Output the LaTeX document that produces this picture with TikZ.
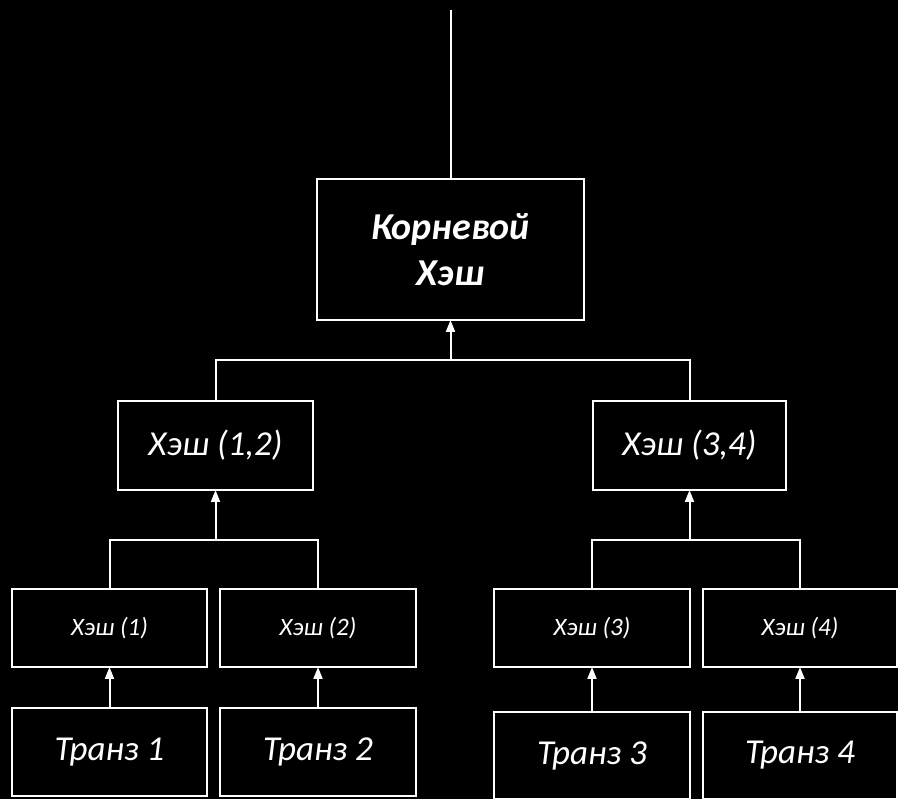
\documentclass[tikz,border=0pt]{standalone}
\usepackage{fontspec}
\setmainfont{Carlito}
\usetikzlibrary{arrows.meta}
\begin{document}
\begin{tikzpicture}[x=1pt,y=-1pt,
  box/.style={draw=white,line width=2pt,text=white,inner sep=0pt,outer sep=0pt,align=center,font=\itshape},
  big/.style={font=\fontsize{35}{40}\selectfont\itshape},
  small/.style={font=\fontsize{25}{28}\selectfont\itshape},
  link/.style={draw=white,line width=2pt},
  arr/.style={link,-{Triangle[width=9pt,length=12pt]}}]
\fill[black] (0,0) rectangle (898,799);
\useasboundingbox (0,0) rectangle (898,799);
% root
\node[box,minimum width=267pt,minimum height=141pt,font=\fontsize{38}{46}\selectfont\bfseries\itshape] (root) at (450.5,249.5) {Корневой\\Хэш};
% level 1
\node[box,big,minimum width=195pt,minimum height=89pt] (h12) at (215.5,445.5) {Хэш (1,2)};
\node[box,big,minimum width=193pt,minimum height=89pt] (h34) at (689.5,445.5) {Хэш (3,4)};
% level 2
\node[box,small,minimum width=195pt,minimum height=78pt] (h1) at (109.5,628) {Хэш (1)};
\node[box,small,minimum width=196pt,minimum height=78pt] (h2) at (318,628) {Хэш (2)};
\node[box,small,minimum width=196pt,minimum height=78pt] (h3) at (592,628) {Хэш (3)};
\node[box,small,minimum width=194pt,minimum height=78pt] (h4) at (800,628) {Хэш (4)};
% transactions
\node[box,big,minimum width=195pt,minimum height=88pt] (t1) at (109.5,752) {Транз 1};
\node[box,big,minimum width=196pt,minimum height=88pt] (t2) at (318,752) {Транз 2};
\node[box,big,minimum width=196pt,minimum height=87pt] (t3) at (592,755.5) {Транз 3};
\node[box,big,minimum width=194pt,minimum height=87pt] (t4) at (800,755.5) {Транз 4};
% connectors
\coordinate (top) at (450.5,10);
\draw[link] (top) -- (root.north);
\coordinate (j0) at (450.5,360);
\coordinate (j1) at (215.5,540);
\coordinate (j2) at (689.5,540);
\draw[link] (h12.north) |- (j0) -| (h34.north);
\draw[arr] (j0) -- (root.south);
\draw[link] (h1.north) |- (j1) -| (h2.north);
\draw[arr] (j1) -- (h12.south);
\draw[link] (h3.north) |- (j2) -| (h4.north);
\draw[arr] (j2) -- (h34.south);
\draw[arr] (t1) -- (h1);
\draw[arr] (t2) -- (h2);
\draw[arr] (t3) -- (h3);
\draw[arr] (t4) -- (h4);
\end{tikzpicture}
\end{document}
